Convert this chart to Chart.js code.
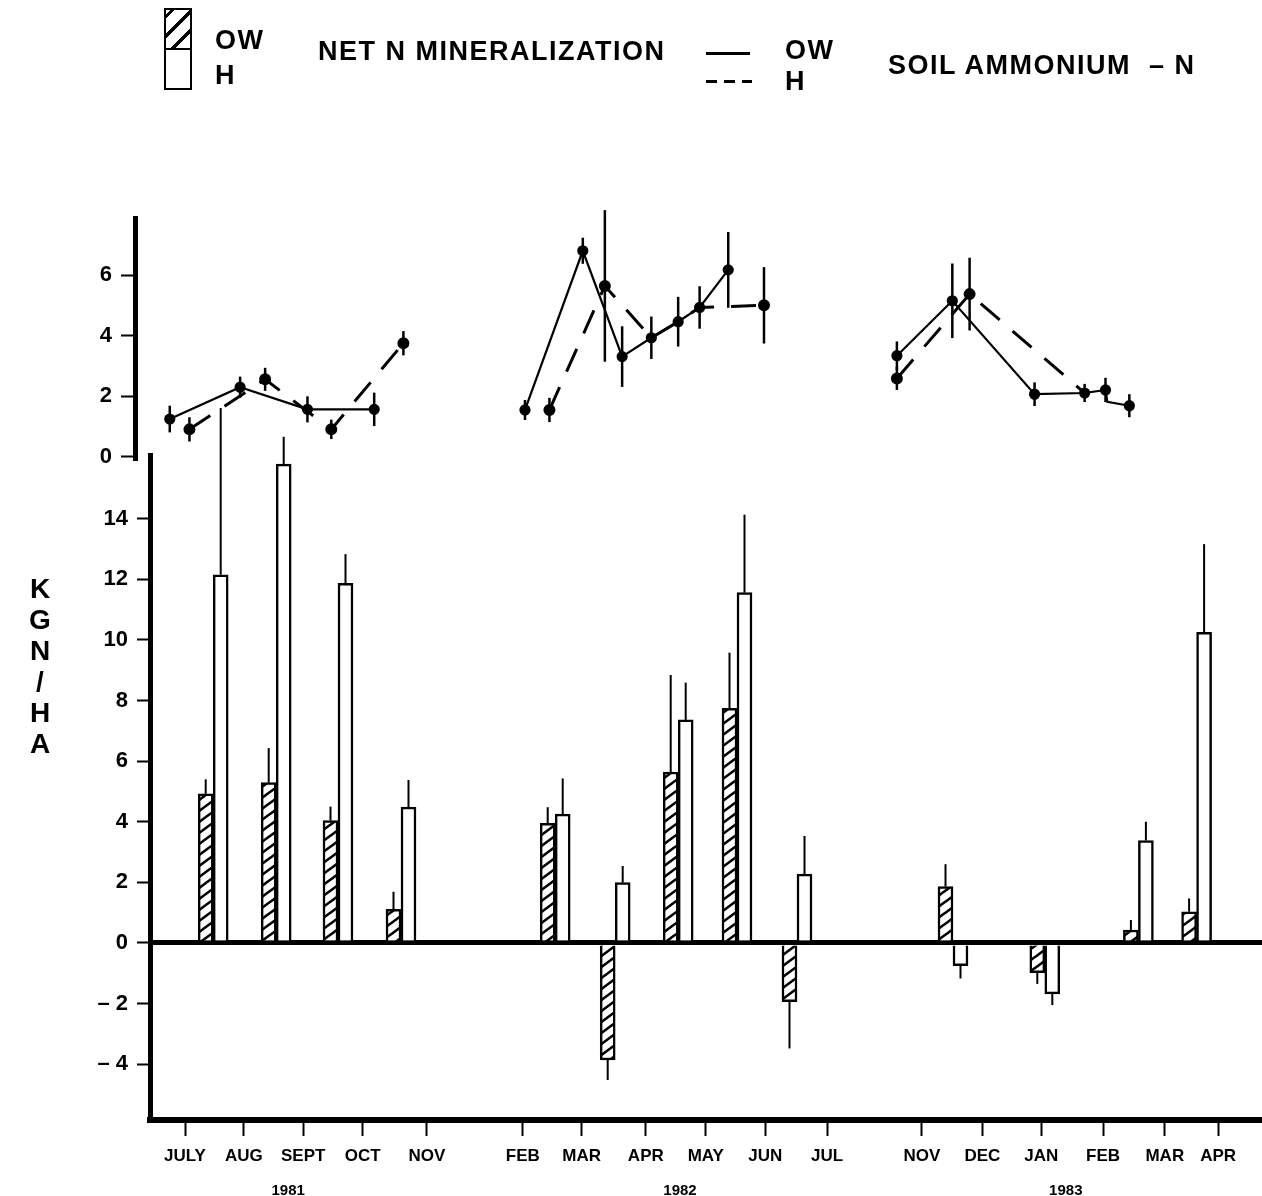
<!DOCTYPE html>
<html>
<head>
<meta charset="utf-8">
<title>Net N mineralization / soil ammonium-N</title>
<script src="https://cdn.jsdelivr.net/npm/chart.js@4.4.1/dist/chart.umd.min.js"></script>
<style>
  body { margin: 0; background: #fff; font-family: "Liberation Sans", Arial, sans-serif; }
  #wrap { position: relative; width: 1262px; height: 1196px; overflow: hidden; background: #fff; }
  canvas { position: absolute; left: 0; top: 0; }
  .txt { position: absolute; font-weight: bold; font-size: 27px; line-height: 27px; letter-spacing: 1.5px; color: #000; white-space: pre; z-index: 3; }
  #barKey { position: absolute; left: 164px; top: 8px; width: 28px; height: 82px; box-sizing: border-box; border: 2.5px solid #000; z-index: 3; }
  #barKey .hatch { height: 38px; border-bottom: 2.5px solid #000;
    background: repeating-linear-gradient(-45deg, #fff 0 10.5px, #000 10.5px 13.5px); }
  .solidKey { position: absolute; left: 706px; top: 52px; width: 44px; height: 2.5px; background: #000; z-index: 3; }
  .dashKey { position: absolute; left: 706px; top: 80px; width: 46px; height: 3px; z-index: 3;
    background: repeating-linear-gradient(to right, #000 0 11px, transparent 11px 18px); }
</style>
</head>
<body>
<div id="wrap">
  <canvas id="netMin" width="1262" height="1196" style="z-index:1"></canvas>
  <canvas id="ammonium" width="1262" height="1196" style="z-index:2"></canvas>

  <!-- key at the top -->
  <div id="barKey"><div class="hatch"></div></div>
  <div class="txt" style="left:215px; top:27px">OW</div>
  <div class="txt" style="left:215px; top:62px">H</div>
  <div class="txt" style="left:318px; top:38px">NET N MINERALIZATION</div>
  <div class="solidKey"></div>
  <div class="dashKey"></div>
  <div class="txt" style="left:785px; top:37px">OW</div>
  <div class="txt" style="left:785px; top:68px">H</div>
  <div class="txt" style="left:888px; top:52px">SOIL AMMONIUM  – N</div>
</div>

<script>
// x axis is in months from July 1981 (the winter gaps are squeezed)
const monthLabels = ['JULY', 'AUG', 'SEPT', 'OCT', 'NOV', 'FEB', 'MAR', 'APR', 'MAY', 'JUN', 'JUL',
                     'NOV', 'DEC', 'JAN', 'FEB', 'MAR', 'APR'];
const monthTicks = [0, 0.98, 1.97, 2.96, 4.03, 5.63, 6.61, 7.68, 8.68, 9.67, 10.7,
                    12.28, 13.29, 14.27, 15.3, 16.33, 17.22];
const yearLabels = ['1981', '1982', '1983'];
const yearX = [1.72, 8.25, 14.68];

// net N mineralization (kg N/ha), one OW + H pair per sampling date
const barX = [0.47, 1.52, 2.55, 3.6, 6.17, 7.17, 8.22, 9.2, 10.2, 12.8, 14.33, 15.89, 16.86];
const owNet = [4.92, 5.29, 4.04, 1.11, 3.95, -3.86, 5.64, 7.74, -1.94, 1.86, -0.98, 0.43, 1.03];
const owNetErr = [0.48, 1.14, 0.46, 0.58, 0.53, 0.66, 3.2, 1.84, 1.54, 0.74, 0.37, 0.33, 0.44];
const hNet = [12.15, 15.8, 11.87, 4.48, 4.25, 1.99, 7.36, 11.56, 2.27, -0.75, -1.68, 3.38, 10.25];
const hNetErr = [5.5, 0.9, 0.96, 0.9, 1.18, 0.55, 1.23, 2.57, 1.26, 0.42, 0.37, 0.62, 2.91];

// soil ammonium-N (kg N/ha), null = break between seasons
const owAmmX = [-0.25, 0.93, 2.06, 3.18, 4.5, 5.71, 6.68, 7.34, 7.83, 8.28, 8.64, 9.12, 11,
                11.95, 12.88, 14.26, 15.1, 15.45, 15.48, 15.85];
const owAmm = [1.25, 2.3, 1.57, 1.57, null, 1.55, 6.8, 3.31, 3.93, 4.46, 4.93, 6.17, null,
               3.34, 5.15, 2.07, 2.11, 2.21, 1.82, 1.69];
const owAmmErr = [0.44, 0.35, 0.43, 0.55, 0, 0.33, 0.43, 1.0, 0.7, 0.82, 0.7, 1.25, 0,
                  0.47, 1.23, 0.39, 0.3, 0.4, 0, 0.38];
const hAmmX = [0.08, 1.35, 2.46, 3.67, 4.8, 6.12, 7.05, 7.83, 8.28, 8.64, 9.12, 9.72, 11,
               11.95, 13.17, 15.1];
const hAmm = [0.91, 2.56, 0.91, 3.75, null, 1.55, 5.64, 3.93, 4.46, 4.93, 4.96, 5.0, null,
              2.59, 5.37, 2.11];
const hAmmErr = [0.4, 0.38, 0.32, 0.4, 0, 0.4, 2.5, 0, 0, 0, 0, 1.26, 0, 0.38, 1.2, 0];

const lowerTicks = [-4, -2, 0, 2, 4, 6, 8, 10, 12, 14];
const upperTicks = [0, 2, 4, 6];
const yTitle = 'KGN/HA';

// dot sizes (H dots hidden where they sit on the OW line)
const owDot = [4.5, 4.5, 4.5, 4.5, 0, 4.5, 4.5, 4.5, 4.5, 4.5, 4.5, 4.5, 0, 4.5, 4.5, 4.5, 4.5, 4.5, 0, 4.5];
const hDot = [4.5, 4.5, 4.5, 4.5, 0, 4.5, 4.5, 0, 0, 0, 0, 4.5, 0, 4.5, 4.5, 0];

const PX_PER_MONTH = 60;
const pairOffset = 7.5 / PX_PER_MONTH;   // half a bar, so the pair sits side by side
const font = 'Liberation Sans';

// diagonal hatching for the OW bars
function makeHatch() {
  const w = 15, h = 11;
  const c = document.createElement('canvas');
  c.width = w; c.height = h;
  const g = c.getContext('2d');
  g.fillStyle = '#fff';
  g.fillRect(0, 0, w, h);
  g.strokeStyle = '#000';
  g.lineWidth = 2.6;
  g.beginPath();
  g.moveTo(-w, h); g.lineTo(w, -h);
  g.moveTo(0, h); g.lineTo(w, 0);
  g.moveTo(0, 2 * h); g.lineTo(2 * w, 0);
  g.stroke();
  return g.createPattern(c, 'repeat');
}

// vertical error lines, bars only get the outward half
const errorBars = {
  id: 'errorBars',
  afterDatasetsDraw(chart) {
    const ctx = chart.ctx;
    const y = chart.scales.y;
    chart.data.datasets.forEach((ds, i) => {
      if (!ds.errors) return;
      const meta = chart.getDatasetMeta(i);
      ctx.save();
      ctx.strokeStyle = '#000';
      ctx.lineWidth = ds.errorWidth || 2;
      meta.data.forEach((el, j) => {
        const v = ds.data[j].y;
        const e = ds.errors[j];
        if (v === null || !e) return;
        let from, to;
        if (chart.config.type === 'bar') {
          from = v;
          to = v < 0 ? v - e : v + e;
        } else {
          from = v - e;
          to = v + e;
        }
        ctx.beginPath();
        ctx.moveTo(el.x, y.getPixelForValue(from));
        ctx.lineTo(el.x, y.getPixelForValue(to));
        ctx.stroke();
      });
      ctx.restore();
    });
  }
};

// year names under the month labels + the stacked y title
const extraText = {
  id: 'extraText',
  afterDraw(chart) {
    const ctx = chart.ctx;
    const x = chart.scales.x;
    ctx.save();
    ctx.fillStyle = '#000';
    ctx.textAlign = 'center';
    ctx.textBaseline = 'middle';
    ctx.font = 'bold 15px ' + font;
    yearLabels.forEach((t, i) => ctx.fillText(t, x.getPixelForValue(yearX[i]), 1191));
    ctx.font = 'bold 28px ' + font;
    for (let i = 0; i < yTitle.length; i++) {
      ctx.fillText(yTitle[i], 40, 590 + i * 31);
    }
    ctx.restore();
  }
};

const hatch = makeHatch();

// lower panel: net mineralization bars
const netChart = new Chart(document.getElementById('netMin'), {
  type: 'bar',
  data: {
    datasets: [
      {
        label: 'OW',
        data: barX.map((x, i) => ({ x: x - pairOffset, y: owNet[i] })),
        errors: owNetErr,
        backgroundColor: hatch,
        borderColor: '#000',
        borderWidth: 2.5,
        barThickness: 15,
        grouped: false
      },
      {
        label: 'H',
        data: barX.map((x, i) => ({ x: x + pairOffset, y: hNet[i] })),
        errors: hNetErr,
        backgroundColor: '#fff',
        borderColor: '#000',
        borderWidth: 2.5,
        barThickness: 15,
        grouped: false
      }
    ]
  },
  options: {
    responsive: false,
    animation: false,
    devicePixelRatio: 1,
    layout: { padding: { top: 455, left: 0, right: 0, bottom: 0 } },
    plugins: { legend: { display: false }, tooltip: { enabled: false } },
    scales: {
      x: {
        type: 'linear',
        offset: false,
        min: (150 - 185) / PX_PER_MONTH,
        max: (1262 - 185) / PX_PER_MONTH,
        border: { display: true, color: '#000', width: 6 },
        grid: { offset: false, drawOnChartArea: false, drawTicks: true, tickLength: 16, tickWidth: 2, tickColor: '#000' },
        ticks: {
          autoSkip: false, maxRotation: 0, color: '#000', padding: 10,
          font: { family: font, size: 17, weight: 'bold' },
          callback: (v, i) => monthLabels[i]
        },
        afterBuildTicks: s => { s.ticks = monthTicks.map(v => ({ value: v })); },
        afterFit: s => { s.height = 76; }
      },
      y: {
        min: -5.84,
        max: 16.1,
        border: { display: true, color: '#000', width: 5 },
        grid: {
          drawOnChartArea: true,
          color: c => (c.tick && c.tick.value === 0 ? '#000' : 'rgba(0,0,0,0)'),
          lineWidth: c => (c.tick && c.tick.value === 0 ? 5 : 1),
          tickColor: '#000', tickWidth: 2, tickLength: 13
        },
        ticks: {
          color: '#000', padding: 9,
          font: { family: font, size: 22, weight: 'bold' },
          callback: v => (v < 0 ? '\u2013 ' + (-v) : String(v))
        },
        afterBuildTicks: s => { s.ticks = lowerTicks.map(v => ({ value: v })); },
        afterFit: s => { s.width = 150; }
      }
    }
  },
  plugins: [errorBars, extraText]
});

// upper panel: soil ammonium lines, same pixels per unit as below
const ammChart = new Chart(document.getElementById('ammonium'), {
  type: 'line',
  data: {
    datasets: [
      {
        label: 'OW',
        data: owAmmX.map((x, i) => ({ x: x, y: owAmm[i] })),
        errors: owAmmErr,
        errorWidth: 2.5,
        borderColor: '#000',
        borderWidth: 2.2,
        pointRadius: owDot,
        pointBackgroundColor: '#000',
        pointBorderColor: '#000',
        spanGaps: false,
        tension: 0,
        clip: false
      },
      {
        label: 'H',
        data: hAmmX.map((x, i) => ({ x: x, y: hAmm[i] })),
        errors: hAmmErr,
        errorWidth: 2.5,
        borderColor: '#000',
        borderWidth: 3,
        borderDash: [25, 17],
        pointRadius: hDot,
        pointBackgroundColor: '#000',
        pointBorderColor: '#000',
        spanGaps: false,
        tension: 0,
        clip: false
      }
    ]
  },
  options: {
    responsive: false,
    animation: false,
    devicePixelRatio: 1,
    layout: { padding: { top: 218, left: 0, right: 0, bottom: 736 } },
    plugins: { legend: { display: false }, tooltip: { enabled: false } },
    scales: {
      x: {
        type: 'linear',
        display: false,
        min: (135 - 185) / PX_PER_MONTH,
        max: (1262 - 185) / PX_PER_MONTH
      },
      y: {
        min: -0.1,
        max: 7.88,
        border: { display: true, color: '#000', width: 5 },
        grid: { drawOnChartArea: false, drawTicks: true, tickLength: 14, tickWidth: 2, tickColor: '#000' },
        ticks: {
          color: '#000', padding: 9,
          font: { family: font, size: 22, weight: 'bold' }
        },
        afterBuildTicks: s => { s.ticks = upperTicks.map(v => ({ value: v })); },
        afterFit: s => { s.width = 135; }
      }
    }
  },
  plugins: [errorBars]
});
</script>
</body>
</html>
